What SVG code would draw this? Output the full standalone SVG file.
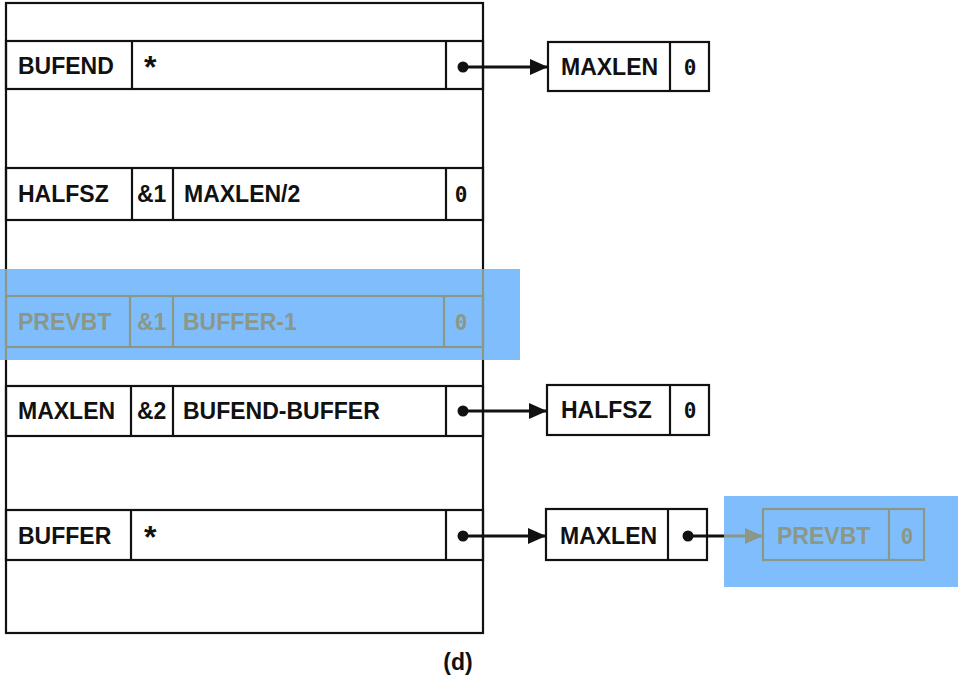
<svg xmlns="http://www.w3.org/2000/svg" width="958" height="678" viewBox="0 0 958 678">
<defs>
<style>
.ln{fill:none;stroke:#111;stroke-width:2.2}
.gl{fill:none;stroke:#8b9888;stroke-width:2.2}
.tx{font-family:"Liberation Sans",Arial,sans-serif;font-weight:bold;font-size:23px;fill:#111}
.gt{font-family:"Liberation Sans",Arial,sans-serif;font-weight:bold;font-size:23px;fill:#8b9888}
.st{font-size:32px}
.z{font-family:"DejaVu Sans Mono","Liberation Mono",monospace;font-weight:bold;font-size:21px;text-anchor:middle}
.hl{fill:#80bdfd}
.cn{fill:none;stroke:#111;stroke-width:3}
</style>
<marker id="ah" markerWidth="18" markerHeight="16" refX="18" refY="8" orient="auto" markerUnits="userSpaceOnUse">
<path d="M0,0 L18,8 L0,16 Z" fill="#111"/>
</marker>
<marker id="ahg" markerWidth="18" markerHeight="16" refX="18" refY="8" orient="auto" markerUnits="userSpaceOnUse">
<path d="M0,0 L18,8 L0,16 Z" fill="#8b9888"/>
</marker>
</defs>
<rect width="958" height="678" fill="#fff"/>

<g id="frame">
<rect class="ln" x="6" y="3" width="477" height="630"/>
</g>

<g id="row-bufend">
<rect class="ln" x="6" y="41" width="477" height="48"/>
<line class="ln" x1="132" y1="41" x2="132" y2="89"/>
<line class="ln" x1="446" y1="41" x2="446" y2="89"/>
<text class="tx" x="18" y="74">BUFEND</text>
<text class="tx st" x="144" y="78">*</text>
</g>

<g id="row-halfsz">
<rect class="ln" x="6" y="168" width="477" height="52"/>
<line class="ln" x1="132" y1="168" x2="132" y2="220"/>
<line class="ln" x1="173" y1="168" x2="173" y2="220"/>
<line class="ln" x1="446" y1="168" x2="446" y2="220"/>
<text class="tx" x="18" y="202">HALFSZ</text>
<text class="tx" x="137" y="202">&amp;1</text>
<text class="tx" x="184" y="202">MAXLEN/2</text>
<text class="tx z" x="461" y="202">0</text>
</g>

<g id="row-maxlen">
<rect class="ln" x="6" y="386" width="477" height="50"/>
<line class="ln" x1="131" y1="386" x2="131" y2="436"/>
<line class="ln" x1="173" y1="386" x2="173" y2="436"/>
<line class="ln" x1="446" y1="386" x2="446" y2="436"/>
<text class="tx" x="18" y="419">MAXLEN</text>
<text class="tx" x="137" y="419">&amp;2</text>
<text class="tx" x="183" y="419">BUFEND-BUFFER</text>
</g>

<g id="row-buffer">
<rect class="ln" x="6" y="510" width="477" height="50"/>
<line class="ln" x1="131" y1="510" x2="131" y2="560"/>
<line class="ln" x1="446" y1="510" x2="446" y2="560"/>
<text class="tx" x="18" y="544">BUFFER</text>
<text class="tx st" x="144" y="548">*</text>
</g>

<g id="node-maxlen-1">
<rect class="ln" x="548" y="42" width="161" height="49"/>
<line class="ln" x1="670" y1="42" x2="670" y2="91"/>
<text class="tx" x="561" y="75">MAXLEN</text>
<text class="tx z" x="690" y="75">0</text>
</g>

<g id="node-halfsz">
<rect class="ln" x="547" y="385" width="162" height="50"/>
<line class="ln" x1="670" y1="385" x2="670" y2="435"/>
<text class="tx" x="561" y="418">HALFSZ</text>
<text class="tx z" x="690" y="418">0</text>
</g>

<g id="node-maxlen-2">
<rect class="ln" x="546" y="509" width="161" height="51"/>
<line class="ln" x1="668" y1="509" x2="668" y2="560"/>
<text class="tx" x="560" y="544">MAXLEN</text>
</g>

<g id="connectors">
<circle cx="463" cy="67" r="5.5" fill="#111"/>
<line class="cn" x1="463" y1="67" x2="548" y2="67" marker-end="url(#ah)"/>
<circle cx="463" cy="411" r="5.5" fill="#111"/>
<line class="cn" x1="463" y1="411" x2="547" y2="411" marker-end="url(#ah)"/>
<circle cx="463" cy="536" r="5.5" fill="#111"/>
<line class="cn" x1="463" y1="536" x2="546" y2="536" marker-end="url(#ah)"/>
<circle cx="688" cy="536" r="5.5" fill="#111"/>
<line class="cn" x1="688" y1="536" x2="725" y2="536"/>
</g>

<g id="highlight-prevbt-row">
<rect class="hl" x="0" y="269" width="520" height="91"/>
<line class="gl" x1="6" y1="269" x2="6" y2="360"/>
<line class="gl" x1="483" y1="269" x2="483" y2="360"/>
<rect class="gl" x="6" y="296" width="477" height="51"/>
<line class="gl" x1="130" y1="296" x2="130" y2="347"/>
<line class="gl" x1="173" y1="296" x2="173" y2="347"/>
<line class="gl" x1="444" y1="296" x2="444" y2="347"/>
<text class="gt" x="18" y="330">PREVBT</text>
<text class="gt" x="137" y="330">&amp;1</text>
<text class="gt" x="183" y="330">BUFFER-1</text>
<text class="gt z" x="461" y="330">0</text>
</g>

<g id="highlight-prevbt-node">
<rect class="hl" x="724" y="496" width="234" height="91"/>
<line x1="724" y1="536" x2="763" y2="536" stroke="#8b9888" stroke-width="3" marker-end="url(#ahg)"/>
<rect class="gl" x="763" y="509" width="161" height="51"/>
<line class="gl" x1="889" y1="509" x2="889" y2="560"/>
<text class="gt" x="777" y="544">PREVBT</text>
<text class="gt z" x="907" y="544">0</text>
</g>

<g id="caption">
<text class="tx" x="458" y="670" text-anchor="middle" font-size="21">(d)</text>
</g>
</svg>
